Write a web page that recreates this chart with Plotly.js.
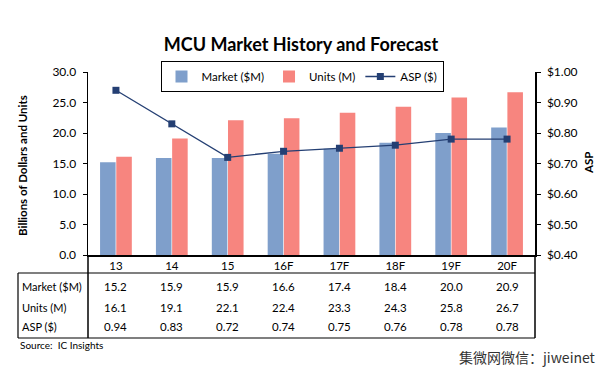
<!DOCTYPE html>
<html><head><meta charset="utf-8">
<script src="https://cdn.plot.ly/plotly-3.0.1.min.js"></script>
<style>body{margin:0;background:#fff}#c{width:605px;height:373px}</style>
</head><body><div id="c"></div>
<script>
const categories = ['13','14','15','16F','17F','18F','19F','20F'];
const market = [15.2,15.9,15.9,16.6,17.4,18.4,20.0,20.9];
const units = [16.1,19.1,22.1,22.4,23.3,24.3,25.8,26.7];
const asp = [0.94,0.83,0.72,0.74,0.75,0.76,0.78,0.78];
const rowLabels = ['Market ($M)','Units (M)','ASP ($)'];

const W=605,H=373,L=88,R=535,T=72,B=255;
const px=x=>(x-L)/(R-L), py=y=>(B-y)/(B-T);
const FONT='Lato, "Open Sans", sans-serif';
const blue='#7F9FCB', pink='#F7857F', navy='#243F73';

const traces=[
 {type:'bar',name:'Market ($M)',x:categories,y:market,marker:{color:blue}},
 {type:'bar',name:'Units (M)',x:categories,y:units,marker:{color:pink}},
 {type:'scatter',mode:'lines+markers',name:'ASP ($)',x:categories,y:asp,yaxis:'y2',
  line:{color:navy,width:1.3},marker:{symbol:'square',size:7,color:navy}}
];

const ann=[];
const rowsY=[286,307,326];
const rows=[market.map(v=>v.toFixed(1)),units.map(v=>v.toFixed(1)),asp.map(v=>v.toFixed(2))];
rows.forEach((r,i)=>{
  ann.push({xref:'paper',yref:'paper',x:px(20),y:py(rowsY[i]),xanchor:'left',yanchor:'middle',showarrow:false,text:rowLabels[i],font:{size:11,color:'#000',family:FONT}});
  r.forEach((t,j)=>ann.push({xref:'x',yref:'paper',x:j,y:py(rowsY[i]),xanchor:'center',yanchor:'middle',showarrow:false,text:t,font:{size:11.5,color:'#000',family:FONT}}));
});
ann.push({xref:'paper',yref:'paper',x:px(22),y:py(166),textangle:-90,showarrow:false,text:'<b>Billions of Dollars and Units</b>',font:{size:11.5,color:'#000',family:FONT},xanchor:'center',yanchor:'middle'});
ann.push({xref:'paper',yref:'paper',x:px(588),y:py(163),textangle:-90,showarrow:false,text:'<b>ASP</b>',font:{size:11.5,color:'#000',family:FONT},xanchor:'center',yanchor:'middle'});
ann.push({xref:'paper',yref:'paper',x:px(18),y:py(345),xanchor:'left',yanchor:'middle',showarrow:false,text:'Source:  IC Insights',font:{size:10,color:'#000',family:FONT}});
ann.push({xref:'paper',yref:'paper',x:px(598),y:py(357),xanchor:'right',yanchor:'middle',showarrow:false,text:'集微网微信：jiweinet',font:{size:14,color:'#333',family:'"Noto Sans CJK SC", sans-serif'}});

const ln=(x0,y0,x1,y1,w)=>({type:'line',xref:'paper',yref:'paper',x0:px(x0),y0:py(y0),x1:px(x1),y1:py(y1),line:{color:'#000',width:w||1.2}});
const shapes=[
 ln(18,273,R,273), ln(18,338,R,338), ln(18,273,18,338), ln(L,B,L,338,1.5), ln(R,B,R,338,1.5)
];

const axFont={size:12,color:'#000',family:FONT};
const layout={
 width:W,height:H,margin:{l:L,r:W-R,t:T,b:H-B,pad:0},
 paper_bgcolor:'#fff',plot_bgcolor:'#fff',
 font:{family:FONT,color:'#000'},
 title:{text:'<b>MCU Market History and Forecast</b>',font:{size:18,family:FONT,color:'#000'},x:301/W,xref:'container',xanchor:'center',y:1-45/H,yref:'container',yanchor:'middle'},
 barmode:'group',bargap:0.42,bargroupgap:0.04,
 xaxis:{type:'category',range:[-0.5,7.5],showline:true,linecolor:'#000',linewidth:1.5,ticks:'',tickfont:{size:11.5,color:'#000',family:FONT},showgrid:false,zeroline:false,ticklabelstandoff:0},
 yaxis:{range:[0,30],dtick:5,tickformat:'.1f',showgrid:false,zeroline:false,showline:true,linecolor:'#000',linewidth:1.5,ticks:'outside',ticklen:4,tickcolor:'#000',tickfont:axFont,ticklabelstandoff:4},
 yaxis2:{range:[0.4,1.0],dtick:0.1,tickformat:'$.2f',overlaying:'y',side:'right',showgrid:false,zeroline:false,showline:true,linecolor:'#000',linewidth:1.5,ticks:'outside',ticklen:4,tickcolor:'#000',tickfont:axFont,ticklabelstandoff:4},
 yaxis3:{range:[0,30],dtick:5,overlaying:'y',side:'left',showticklabels:false,showgrid:false,zeroline:false,showline:false,ticks:'inside',ticklen:4,tickcolor:'#000'},
 yaxis4:{range:[0.4,1.0],dtick:0.1,overlaying:'y',side:'right',showticklabels:false,showgrid:false,zeroline:false,showline:false,ticks:'inside',ticklen:4,tickcolor:'#000'},
 showlegend:true,
 legend:{orientation:'h',x:px(302),xanchor:'center',y:py(61),yanchor:'top',bordercolor:'#000',borderwidth:1,font:{size:11.5,color:'#000',family:FONT},bgcolor:'#fff',itemwidth:30,traceorder:'normal'},
 annotations:ann,shapes:shapes
};
Plotly.newPlot('c',traces,layout,{displayModeBar:false,staticPlot:true});
</script></body></html>
